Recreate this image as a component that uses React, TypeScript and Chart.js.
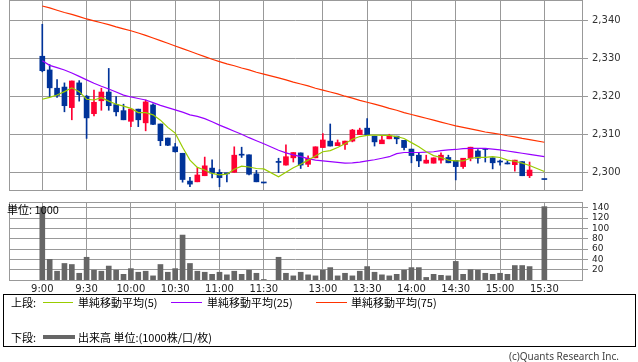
import React, { useEffect, useRef } from "react";
import { Chart, registerables } from "chart.js";

Chart.register(...registerables);

// ---- data (5-minute bars) ----
const times = [
  "9:00", "9:05", "9:10", "9:15", "9:20", "9:25", "9:30", "9:35", "9:40", "9:45", "9:50", "9:55",
  "10:00", "10:05", "10:10", "10:15", "10:20", "10:25", "10:30", "10:35", "10:40", "10:45", "10:50", "10:55",
  "11:00", "11:05", "11:10", "11:15", "11:20", "11:25", "11:30",
  "12:30", "12:35", "12:40", "12:45", "12:50", "12:55",
  "13:00", "13:05", "13:10", "13:15", "13:20", "13:25", "13:30", "13:35", "13:40", "13:45", "13:50", "13:55",
  "14:00", "14:05", "14:10", "14:15", "14:20", "14:25", "14:30", "14:35", "14:40", "14:45", "14:50", "14:55",
  "15:00", "15:05", "15:10", "15:15", "15:20", "15:30",
];

const opens = [
  2330.5, 2326.9, 2322.1, 2322.4, 2317.0, 2323.5, 2320.0, 2315.4, 2318.8, 2321.1, 2317.8, 2316.2,
  2313.4, 2316.6, 2313.0, 2317.7, 2312.7, 2309.0, 2306.7, 2305.0, 2297.7, 2297.5, 2299.1, 2301.1,
  2300.0, 2299.6, 2300.0, 2304.6, 2304.6, 2299.6, 2297.2,
  2302.6, 2301.9, 2303.8, 2305.1, 2302.1, 2303.8,
  2306.5, 2308.2, 2307.0, 2307.3, 2308.2, 2309.9, 2311.6, 2309.5, 2307.5, 2308.8, 2309.5, 2308.4,
  2306.1, 2304.5, 2302.4, 2302.4, 2303.2, 2303.9, 2303.1, 2301.5, 2303.7, 2305.6, 2306.2, 2303.8,
  2302.7, 2302.2, 2302.0, 2302.8, 2299.1, 2298.1,
];
const highs = [
  2338.9, 2328.3, 2324.4, 2323.5, 2324.0, 2324.1, 2320.2, 2321.6, 2322.1, 2327.3, 2319.9, 2317.9,
  2316.6, 2316.6, 2319.0, 2318.0, 2312.7, 2309.0, 2307.6, 2305.0, 2298.7, 2301.2, 2304.0, 2303.3,
  2300.7, 2299.7, 2306.7, 2306.6, 2304.6, 2300.5, 2297.2,
  2303.7, 2307.2, 2305.2, 2305.1, 2304.3, 2306.7,
  2310.2, 2312.7, 2308.5, 2308.2, 2311.3, 2311.6, 2314.1, 2309.5, 2309.5, 2310.0, 2309.5, 2308.4,
  2306.1, 2305.2, 2304.5, 2303.8, 2305.1, 2304.5, 2303.1, 2303.7, 2306.6, 2306.0, 2306.2, 2303.8,
  2303.2, 2303.0, 2303.2, 2302.8, 2302.7, 2298.1,
];
const lows = [
  2326.4, 2319.9, 2319.7, 2315.9, 2313.8, 2318.7, 2308.9, 2314.8, 2316.3, 2316.3, 2314.8, 2313.8,
  2312.0, 2312.0, 2310.9, 2312.5, 2307.0, 2307.0, 2305.3, 2297.4, 2296.2, 2297.5, 2299.1, 2298.5,
  2296.2, 2297.5, 2300.0, 2303.9, 2299.3, 2297.5, 2297.2,
  2299.9, 2301.9, 2302.7, 2301.0, 2301.5, 2303.8,
  2306.5, 2306.9, 2307.0, 2306.0, 2308.0, 2309.9, 2309.9, 2306.9, 2307.5, 2308.8, 2307.5, 2305.9,
  2302.5, 2301.5, 2302.4, 2302.4, 2302.4, 2302.5, 2298.0, 2301.0, 2303.0, 2302.4, 2302.7, 2300.9,
  2301.9, 2302.2, 2300.3, 2299.1, 2298.6, 2298.1,
];
const closes = [
  2326.7, 2322.2, 2320.2, 2317.5, 2324.0, 2320.4, 2314.3, 2318.4, 2321.1, 2317.5, 2315.9, 2313.8,
  2316.6, 2313.8, 2318.5, 2312.6, 2308.3, 2307.1, 2305.4, 2298.1, 2296.9, 2299.3, 2301.7, 2299.8,
  2298.6, 2299.6, 2304.5, 2304.5, 2299.5, 2297.5, 2297.2,
  2302.6, 2304.1, 2305.2, 2301.9, 2303.7, 2306.7,
  2308.5, 2306.9, 2307.8, 2308.2, 2311.1, 2311.1, 2309.9, 2308.0, 2308.5, 2309.5, 2308.8, 2306.5,
  2304.4, 2303.0, 2303.2, 2303.8, 2304.5, 2302.5, 2301.5, 2303.7, 2306.6, 2303.7, 2306.0, 2302.5,
  2302.7, 2302.2, 2303.2, 2299.1, 2300.6, 2298.1,
];
const volumes = [
  141, 40, 17, 32, 30, 13, 44, 19, 17, 27, 19, 11,
  22, 15, 17, 8, 30, 15, 22, 87, 32, 17, 15, 11,
  15, 10, 17, 11, 19, 13, 1,
  44, 13, 8, 15, 10, 8,
  19, 24, 8, 13, 8, 17, 26, 15, 10, 8, 11, 19,
  24, 24, 5, 11, 9, 8, 36, 11, 20, 19, 13, 11,
  13, 11, 28, 28, 26, 142,
];
const ma5 = [
  2319.2, 2319.7, 2320.3, 2321.2, 2322.2, 2321.2, 2319.2, 2319.0, 2319.6, 2318.7, 2317.9, 2317.4,
  2316.8, 2315.7, 2315.7, 2315.1, 2313.7, 2311.8, 2310.3, 2306.6, 2303.2, 2301.3, 2300.6, 2299.7,
  2299.3, 2299.5, 2300.8, 2301.6, 2301.4, 2301.0, 2300.9,
  2298.8, 2300.0, 2301.2, 2302.1, 2303.2, 2304.3,
  2305.4, 2305.7, 2306.5, 2307.5, 2308.7, 2309.4, 2309.7, 2309.8, 2309.7, 2309.7, 2309.4, 2308.9,
  2307.8, 2306.7, 2305.4, 2304.4, 2303.9, 2303.2, 2303.0, 2303.0, 2303.7, 2303.9, 2303.9, 2304.1,
  2303.9, 2303.2, 2302.9, 2302.4, 2301.8, 2300.2,
];
const ma25 = [
  2329.3, 2328.1, 2327.5, 2326.9, 2326.1, 2325.2, 2324.3, 2323.4, 2322.6, 2321.9, 2321.1, 2320.3,
  2319.8, 2319.4, 2319.0, 2318.3, 2317.6, 2317.0, 2316.4, 2315.8, 2315.1, 2314.7, 2314.1, 2313.3,
  2312.4, 2311.6, 2310.8, 2310.0, 2309.1, 2308.3, 2307.5,
  2305.8, 2305.1, 2304.6, 2304.1, 2303.6, 2303.2,
  2303.0, 2302.8, 2302.6, 2302.4, 2302.5, 2302.7, 2303.0, 2303.3, 2303.7, 2304.1, 2304.9, 2305.2,
  2305.2, 2305.2, 2305.3, 2305.4, 2305.7, 2305.9, 2306.0, 2306.2, 2306.3, 2306.3, 2306.3, 2306.1,
  2305.9, 2305.6, 2305.3, 2305.0, 2304.7, 2304.1,
];
const ma75 = [
  2343.7, 2343.2, 2342.6, 2342.0, 2341.5, 2340.9, 2340.3, 2339.8, 2339.3, 2338.8, 2338.2, 2337.7,
  2337.2, 2336.6, 2336.0, 2335.3, 2334.6, 2333.9, 2333.2, 2332.5, 2331.8, 2331.1, 2330.4, 2329.7,
  2329.1, 2328.5, 2328.0, 2327.4, 2326.9, 2326.3, 2325.8,
  2324.8, 2324.3, 2323.7, 2323.2, 2322.7, 2322.1,
  2321.6, 2321.1, 2320.6, 2320.0, 2319.5, 2318.9, 2318.4, 2317.9, 2317.4, 2316.8, 2316.3, 2315.7,
  2315.2, 2314.7, 2314.2, 2313.7, 2313.2, 2312.7, 2312.2, 2311.8, 2311.4, 2311.0, 2310.6, 2310.3,
  2310.0, 2309.6, 2309.3, 2308.9, 2308.6, 2307.9,
];

const timeTickLabels = ["9:00", "9:30", "10:00", "10:30", "11:00", "11:30", "13:00", "13:30", "14:00", "14:30", "15:00", "15:30"];
const priceTicks = [2300, 2310, 2320, 2330, 2340];
const volumeTicks = [20, 40, 60, 80, 100, 120, 140];

// ---- styles ----
const GRID = "#999999";
const UP = "#ff0033";
const DOWN = "#003399";
const C_MA5 = "#99cc00";
const C_MA25 = "#9900ff";
const C_MA75 = "#ff3300";
const VOL = "#666666";
const FONT = "DejaVu Sans";

// slot position on the time axis (5-min steps, lunch break compressed to one empty slot)
function slotOf(t: string): number {
  const [h, m] = t.split(":").map(Number);
  const mins = (h - 9) * 60 + m;
  return mins / 5 - (mins > 150 ? 10 : 0);
}
const slots = times.map(slotOf);
const gridSlots = timeTickLabels.map(slotOf);

const X_MIN = -4.51;
const X_MAX = 73.1;

const framePlugin = {
  id: "frame",
  beforeDatasetsDraw(chart: any) {
    const { ctx, chartArea: a } = chart;
    ctx.save();
    ctx.strokeStyle = GRID;
    ctx.lineWidth = 1;
    ctx.strokeRect(Math.round(a.left) + 0.5, Math.round(a.top) + 0.5, Math.round(a.right - a.left), Math.round(a.bottom - a.top));
    ctx.restore();
  },
};

const candleColor = (i: number) => (closes[i] > opens[i] ? UP : DOWN);

export default function App() {
  const priceRef = useRef<HTMLCanvasElement>(null);
  const volRef = useRef<HTMLCanvasElement>(null);

  useEffect(() => {
    const lineDs = (label: string, values: number[], color: string) => ({
      type: "line" as const,
      label,
      data: slots.map((s, i) => ({ x: s, y: values[i] })),
      borderColor: color,
      borderWidth: 1.2,
      pointRadius: 0,
      tension: 0,
      spanGaps: true,
      order: 1,
    });

    const xCommon = {
      type: "linear" as const,
      min: X_MIN,
      max: X_MAX,
      offset: false,
      afterBuildTicks: (s: any) => {
        s.ticks = gridSlots.map((v) => ({ value: v }));
      },
      border: { display: false },
    };

    const price = new Chart(priceRef.current!, {
      type: "bar",
      data: {
        datasets: [
          lineDs("単純移動平均(5)", ma5, C_MA5),
          lineDs("単純移動平均(25)", ma25, C_MA25),
          lineDs("単純移動平均(75)", ma75, C_MA75),
          {
            type: "bar",
            label: "body",
            data: slots.map((s, i) => ({ x: s, y: [opens[i], closes[i]] })) as any,
            backgroundColor: (c: any) => candleColor(c.dataIndex),
            barThickness: 5,
            grouped: false,
            minBarLength: 1,
            order: 5,
          } as any,
          {
            type: "bar",
            label: "wick",
            data: slots.map((s, i) => ({ x: s, y: [lows[i], highs[i]] })) as any,
            backgroundColor: (c: any) => candleColor(c.dataIndex),
            barThickness: 1,
            grouped: false,
            order: 6,
          } as any,
        ],
      },
      options: {
        responsive: false,
        animation: false,
        events: [],
        layout: { padding: { left: 9, top: 10, bottom: 10, right: 0 } },
        plugins: { legend: { display: false }, tooltip: { enabled: false } },
        scales: {
          x: {
            ...xCommon,
            ticks: { display: false },
            grid: { color: GRID, drawTicks: false, offset: false },
            afterFit: (s: any) => {
              s.height = 0;
            },
          } as any,
          y: {
            type: "linear",
            position: "right",
            min: 2295.35,
            max: 2345.28,
            beginAtZero: false,
            afterBuildTicks: (s: any) => {
              s.ticks = priceTicks.map((v) => ({ value: v }));
            },
            ticks: {
              font: { family: FONT, size: 10 },
              color: "#333",
              padding: 4,
              autoSkip: false,
              callback: (v: any) => Number(v).toLocaleString("en-US"),
            },
            grid: { color: GRID, tickLength: 6, tickColor: GRID },
            border: { display: false },
            afterFit: (s: any) => {
              s.width = 56;
            },
          } as any,
        },
      },
      plugins: [framePlugin],
    });

    const vol = new Chart(volRef.current!, {
      type: "bar",
      data: {
        datasets: [
          {
            label: "出来高",
            data: slots.map((s, i) => ({ x: s, y: volumes[i] })) as any,
            backgroundColor: VOL,
            barThickness: 5,
          },
        ],
      },
      options: {
        responsive: false,
        animation: false,
        events: [],
        layout: { padding: { left: 9, top: 10, bottom: 0, right: 0 } },
        plugins: { legend: { display: false }, tooltip: { enabled: false } },
        scales: {
          x: {
            ...xCommon,
            ticks: {
              font: { family: FONT, size: 10 },
              color: "#222",
              padding: 3,
              autoSkip: false,
              maxRotation: 0,
              callback: (v: any) => timeTickLabels[gridSlots.indexOf(Number(v))] ?? "",
            },
            grid: { color: GRID, drawTicks: false, offset: false },
            afterFit: (s: any) => {
              s.height = 22;
            },
          } as any,
          y: {
            type: "linear",
            position: "right",
            min: 0,
            max: 151,
            afterBuildTicks: (s: any) => {
              s.ticks = volumeTicks.map((v) => ({ value: v }));
            },
            ticks: { font: { family: FONT, size: 9 }, color: "#222", padding: 4, autoSkip: false },
            grid: { color: GRID, tickLength: 6, tickColor: GRID },
            border: { display: false },
            afterFit: (s: any) => {
              s.width = 56;
            },
          } as any,
        },
      },
      plugins: [framePlugin],
    });

    return () => {
      price.destroy();
      vol.destroy();
    };
  }, []);

  const jp = "'Noto Sans CJK JP', 'Noto Sans', sans-serif";
  const text = (left: number, top: number, s: string, size = 11) => (
    <span style={{ position: "absolute", left, top, fontSize: size, lineHeight: "14px", whiteSpace: "nowrap", color: "#000" }}>{s}</span>
  );
  const line = (left: number, top: number, width: number, h: number, color: string) => (
    <div style={{ position: "absolute", left, top, width, height: h, background: color }} />
  );

  return (
    <div style={{ position: "absolute", left: 0, top: 0, width: 638, height: 362, overflow: "hidden", background: "#fff", fontFamily: jp }}>
      <canvas ref={priceRef} width={638} height={210} style={{ position: "absolute", left: 0, top: -10 }} />
      <canvas ref={volRef} width={638} height={110} style={{ position: "absolute", left: 0, top: 192 }} />
      {text(7, 202, "単位: 1000")}
      <div style={{ position: "absolute", left: 3, top: 294, width: 633, height: 53, border: "1px solid #000", boxSizing: "border-box" }} />
      {text(11, 295, "上段:")}
      {line(43, 302, 30, 1, C_MA5)}
      {text(78, 295, "単純移動平均(5)")}
      {line(171, 302, 31, 1, C_MA25)}
      {text(207, 295, "単純移動平均(25)")}
      {line(316, 302, 31, 1, C_MA75)}
      {text(351, 295, "単純移動平均(75)")}
      {text(11, 330, "下段:")}
      {line(43, 335, 32, 4, VOL)}
      {text(78, 330, "出来高 単位:(1000株/口/枚)")}
      <span style={{ position: "absolute", right: 19, top: 350, fontSize: 10, lineHeight: "13px", color: "#444", fontFamily: "'Noto Sans', sans-serif", whiteSpace: "nowrap" }}>
        (c)Quants Research Inc.
      </span>
    </div>
  );
}
